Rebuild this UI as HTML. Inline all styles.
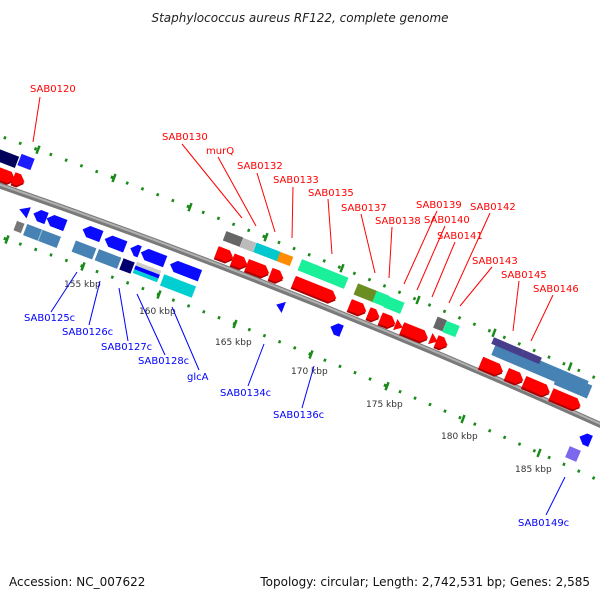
<!DOCTYPE html>
<html><head><meta charset="utf-8"><style>
html,body{margin:0;padding:0;background:#fff;}
svg{display:block;}
text{font-family:"DejaVu Sans","Liberation Sans",sans-serif;}
</style></head><body>
<svg width="600" height="600" viewBox="0 0 600 600" xmlns="http://www.w3.org/2000/svg">
<text x="300" y="22" text-anchor="middle" font-size="12" font-style="italic" fill="#222">Staphylococcus aureus RF122, complete genome</text>

<!-- tick rows -->
<path d="M0,136 Q300,244 600,380" fill="none" stroke="#1a8a1a" stroke-width="3" stroke-dasharray="2.5 13.8" stroke-dashoffset="-4"/>
<path d="M0,237 Q300,341 600,481" fill="none" stroke="#1a8a1a" stroke-width="3" stroke-dasharray="2.5 13.8" stroke-dashoffset="-4"/>
<g stroke="#1a8a1a" stroke-width="2.5">
<line x1="36.5" y1="153.7" x2="39.5" y2="145.7"/><line x1="112.5" y1="182" x2="115.5" y2="174"/>
<line x1="188.5" y1="211.2" x2="191.5" y2="203.2"/><line x1="264.5" y1="241.2" x2="267.5" y2="233.2"/>
<line x1="340.5" y1="272.2" x2="343.5" y2="264.2"/><line x1="416.5" y1="304" x2="419.5" y2="296"/>
<line x1="492.5" y1="336.8" x2="495.5" y2="328.8"/><line x1="568.5" y1="370.5" x2="571.5" y2="362.5"/>
<line x1="5.5" y1="243.5" x2="8.5" y2="235.5"/><line x1="81.5" y1="270.5" x2="84.5" y2="262.5"/>
<line x1="157.5" y1="298.6" x2="160.5" y2="290.6"/><line x1="233.5" y1="328" x2="236.5" y2="320"/>
<line x1="309.5" y1="358.5" x2="312.5" y2="350.5"/><line x1="385.5" y1="390.2" x2="388.5" y2="382.2"/>
<line x1="461.5" y1="423" x2="464.5" y2="415"/><line x1="537.5" y1="456.9" x2="540.5" y2="448.9"/>
</g>
<g font-size="9" fill="#333">
<text x="64" y="287">155 kbp</text><text x="139" y="314">160 kbp</text><text x="215" y="345">165 kbp</text>
<text x="291" y="374">170 kbp</text><text x="366" y="407">175 kbp</text><text x="441" y="439">180 kbp</text>
<text x="515" y="472">185 kbp</text>
</g>

<!-- backbone -->
<path d="M-5,184 Q300,289 605,427" fill="none" stroke="#7a7a7a" stroke-width="6"/>
<path d="M-5,183 Q300,288 605,426" fill="none" stroke="#b0b0b0" stroke-width="2"/>

<!-- forward red arrows -->
<g fill="#f00">
<g transform="translate(3,175) rotate(21)"><polygon points="-13,-4 7,-4 13,2 7,8 -13,8" fill="#a00"/><polygon points="-13,-6 7,-6 13,0 7,6 -13,6"/></g>
<g transform="translate(19,180) rotate(21)"><polygon points="-6,-4 0,-4 6,2 0,8 -6,8" fill="#a00"/><polygon points="-6,-6 0,-6 6,0 0,6 -6,6"/></g>
<g transform="translate(225,255) rotate(21)"><polygon points="-9,-4 3,-4 9,2 3,8 -9,8" fill="#a00"/><polygon points="-9,-6 3,-6 9,0 3,6 -9,6"/></g>
<g transform="translate(240,262) rotate(21)"><polygon points="-8,-4 2,-4 8,2 2,8 -8,8" fill="#a00"/><polygon points="-8,-6 2,-6 8,0 2,6 -8,6"/></g>
<g transform="translate(258,269) rotate(21)"><polygon points="-12,-4 6,-4 12,2 6,8 -12,8" fill="#a00"/><polygon points="-12,-6 6,-6 12,0 6,6 -12,6"/></g>
<g transform="translate(277,276) rotate(21)"><polygon points="-7,-4 1,-4 7,2 1,8 -7,8" fill="#a00"/><polygon points="-7,-6 1,-6 7,0 1,6 -7,6"/></g>
<g transform="translate(315,290) rotate(22)"><polygon points="-23,-4 17,-4 23,2 17,8 -23,8" fill="#a00"/><polygon points="-23,-6 17,-6 23,0 17,6 -23,6"/></g>
<g transform="translate(358,308) rotate(22)"><polygon points="-9,-4 3,-4 9,2 3,8 -9,8" fill="#a00"/><polygon points="-9,-6 3,-6 9,0 3,6 -9,6"/></g>
<g transform="translate(374,315) rotate(22)"><polygon points="-6,-4 0,-4 6,2 0,8 -6,8" fill="#a00"/><polygon points="-6,-6 0,-6 6,0 0,6 -6,6"/></g>
<g transform="translate(388,321) rotate(22)"><polygon points="-8,-4 2,-4 8,2 2,8 -8,8" fill="#a00"/><polygon points="-8,-6 2,-6 8,0 2,6 -8,6"/></g>
<g transform="translate(399,326) rotate(22)"><polygon points="-4,-6 4,0 -4,6"/></g>
<g transform="translate(415,333) rotate(22)"><polygon points="-14,-4 8,-4 14,2 8,8 -14,8" fill="#a00"/><polygon points="-14,-6 8,-6 14,0 8,6 -14,6"/></g>
<g transform="translate(434,340) rotate(22)"><polygon points="-4,-6 4,0 -4,6"/></g>
<g transform="translate(442,343) rotate(22)"><polygon points="-6,-4 0,-4 6,2 0,8 -6,8" fill="#a00"/><polygon points="-6,-6 0,-6 6,0 0,6 -6,6"/></g>
<g transform="translate(492,367) rotate(23)"><polygon points="-12,-4 6,-4 12,2 6,8 -12,8" fill="#a00"/><polygon points="-12,-6 6,-6 12,0 6,6 -12,6"/></g>
<g transform="translate(515,377) rotate(23)"><polygon points="-9,-4 3,-4 9,2 3,8 -9,8" fill="#a00"/><polygon points="-9,-6 3,-6 9,0 3,6 -9,6"/></g>
<g transform="translate(537,387) rotate(23)"><polygon points="-14,-4 8,-4 14,2 8,8 -14,8" fill="#a00"/><polygon points="-14,-6 8,-6 14,0 8,6 -14,6"/></g>
<g transform="translate(566,400) rotate(23)"><polygon points="-16,-4 10,-4 16,2 10,8 -16,8" fill="#a00"/><polygon points="-16,-6 10,-6 16,0 10,6 -16,6"/></g>
</g>

<!-- forward blocks -->
<g transform="translate(3,157) rotate(21)"><rect x="-15" y="-6" width="30" height="12" fill="#00005a"/></g>
<g transform="translate(26,162) rotate(21)"><rect x="-7" y="-6" width="14" height="12" fill="#1c1cff"/></g>
<g transform="translate(233,239) rotate(21)"><rect x="-9" y="-5" width="18" height="10" fill="#666"/></g>
<g transform="translate(248,245) rotate(21)"><rect x="-7" y="-5" width="14" height="10" fill="#bbb"/></g>
<g transform="translate(267,252) rotate(21)"><rect x="-13" y="-5" width="26" height="10" fill="#00c8cc"/></g>
<g transform="translate(285,259) rotate(21)"><rect x="-7" y="-5" width="14" height="10" fill="#ff8c00"/></g>
<g transform="translate(323,274) rotate(22)"><rect x="-25" y="-6" width="50" height="12" fill="#1aef9a"/></g>
<g transform="translate(366,293) rotate(22)"><rect x="-11" y="-6" width="22" height="12" fill="#6b8e23"/></g>
<g transform="translate(381,299) rotate(22)"><rect x="-7" y="-6" width="14" height="12" fill="#1aef9a"/></g>
<g transform="translate(394,305) rotate(22)"><rect x="-9" y="-6" width="18" height="12" fill="#1aef9a"/></g>
<g transform="translate(440,324) rotate(22)"><rect x="-5" y="-6" width="10" height="12" fill="#666"/></g>
<g transform="translate(451,329) rotate(22)"><rect x="-7" y="-6" width="14" height="12" fill="#1aef9a"/></g>
<g transform="translate(540,368) rotate(23)"><rect x="-50" y="-7" width="100" height="14" fill="#4682b4"/></g>
<g transform="translate(573,385) rotate(23)"><rect x="-18" y="-7" width="36" height="14" fill="#4682b4"/></g>
<g transform="translate(506,350) rotate(23)"><rect x="-16" y="-7" width="32" height="7" fill="#483d8b"/><rect x="16" y="-7" width="20" height="7" fill="#483d8b"/></g>

<!-- reverse blue arrows -->
<g fill="#0a0aff">
<g transform="translate(24,211) rotate(21)"><polygon points="-5,0 5,-6 5,6"/></g>
<g transform="translate(40,216) rotate(21)"><polygon points="-7,0 -1,-6 7,-6 7,6 -1,6"/></g>
<g transform="translate(56,222) rotate(21)"><polygon points="-10,0 -4,-6 10,-6 10,6 -4,6"/></g>
<g transform="translate(92,233) rotate(21)"><polygon points="-10,0 -4,-6 10,-6 10,6 -4,6"/></g>
<g transform="translate(115,243) rotate(21)"><polygon points="-11,0 -5,-6 11,-6 11,6 -5,6"/></g>
<g transform="translate(135,250) rotate(21)"><polygon points="-5,0 1,-6 5,-6 5,6 1,6"/></g>
<g transform="translate(153,257) rotate(21)"><polygon points="-13,0 -7,-6 13,-6 13,6 -7,6"/></g>
<g transform="translate(185,270) rotate(21)"><polygon points="-16,0 -10,-6 16,-6 16,6 -10,6"/></g>
<g transform="translate(280,306) rotate(21)"><polygon points="-4,0 4,-6 4,6"/></g>
<g transform="translate(336,329) rotate(22)"><polygon points="-6,0 0,-6 6,-6 6,6 0,6"/></g>
<g transform="translate(585,439) rotate(23)"><polygon points="-6,0 0,-6 6,-6 6,6 0,6"/></g>
</g>
<!-- reverse blocks -->
<g transform="translate(19,227) rotate(21)"><rect x="-4" y="-5" width="8" height="10" fill="#777"/></g>
<g transform="translate(42,236) rotate(21)"><rect x="-18" y="-6" width="36" height="12" fill="#4682b4"/><line x1="-2" y1="-6" x2="-2" y2="6" stroke="#9cc" stroke-width="1"/></g>
<g transform="translate(84,250) rotate(21)"><rect x="-11" y="-6" width="22" height="12" fill="#4682b4"/></g>
<g transform="translate(108,259) rotate(21)"><rect x="-12" y="-6" width="24" height="12" fill="#4682b4"/></g>
<g transform="translate(127,266) rotate(21)"><rect x="-6" y="-6" width="12" height="12" fill="#000070"/></g>
<g transform="translate(147,272) rotate(21)"><rect x="-13" y="-6" width="26" height="4" fill="#ccc"/><rect x="-13" y="-2" width="26" height="4" fill="#00f"/><rect x="-13" y="2" width="26" height="4" fill="#00ced1"/></g>
<g transform="translate(178,286) rotate(21)"><rect x="-17" y="-6" width="34" height="12" fill="#00ced1"/></g>
<g transform="translate(573,454) rotate(23)"><rect x="-6" y="-6" width="12" height="12" fill="#7b68ee"/></g>

<!-- red labels -->
<g stroke="#f00" stroke-width="1">
<line x1="40" y1="97" x2="33" y2="142"/><line x1="182" y1="144" x2="242" y2="218"/>
<line x1="218" y1="157" x2="256" y2="226"/><line x1="257" y1="173" x2="275" y2="232"/>
<line x1="293" y1="187" x2="292" y2="238"/><line x1="328" y1="199" x2="332" y2="254"/>
<line x1="361" y1="214" x2="375" y2="273"/><line x1="392" y1="227" x2="389" y2="278"/>
<line x1="437" y1="211" x2="404" y2="284"/><line x1="445" y1="226" x2="417" y2="290"/>
<line x1="455" y1="242" x2="432" y2="297"/><line x1="490" y1="213" x2="449" y2="303"/>
<line x1="492" y1="267" x2="460" y2="306"/><line x1="519" y1="281" x2="513" y2="331"/>
<line x1="553" y1="295" x2="531" y2="341"/>
</g>
<g font-size="10" fill="#f00">
<text x="30" y="92">SAB0120</text><text x="162" y="140">SAB0130</text><text x="206" y="154">murQ</text>
<text x="237" y="169">SAB0132</text><text x="273" y="183">SAB0133</text><text x="308" y="196">SAB0135</text>
<text x="341" y="211">SAB0137</text><text x="375" y="224">SAB0138</text><text x="416" y="208">SAB0139</text>
<text x="424" y="223">SAB0140</text><text x="437" y="239">SAB0141</text><text x="470" y="210">SAB0142</text>
<text x="472" y="264">SAB0143</text><text x="501" y="278">SAB0145</text><text x="533" y="292">SAB0146</text>
</g>
<!-- blue labels -->
<g stroke="#00f" stroke-width="1">
<line x1="77" y1="272" x2="51" y2="312"/><line x1="100" y1="281" x2="89" y2="325"/>
<line x1="119" y1="288" x2="128" y2="341"/><line x1="137" y1="294" x2="165" y2="355"/>
<line x1="172" y1="307" x2="199" y2="370"/><line x1="264" y1="344" x2="248" y2="386"/>
<line x1="314" y1="366" x2="302" y2="408"/><line x1="565" y1="477" x2="546" y2="515"/>
</g>
<g font-size="10" fill="#00f">
<text x="24" y="321">SAB0125c</text><text x="62" y="335">SAB0126c</text><text x="101" y="350">SAB0127c</text>
<text x="138" y="364">SAB0128c</text><text x="187" y="380">glcA</text><text x="220" y="396">SAB0134c</text>
<text x="273" y="418">SAB0136c</text><text x="518" y="526">SAB0149c</text>
</g>

<text x="9" y="586" font-size="12" fill="#111">Accession: NC_007622</text>
<text x="590" y="586" font-size="12" fill="#111" text-anchor="end">Topology: circular; Length: 2,742,531 bp; Genes: 2,585</text>
</svg>
</body></html>
